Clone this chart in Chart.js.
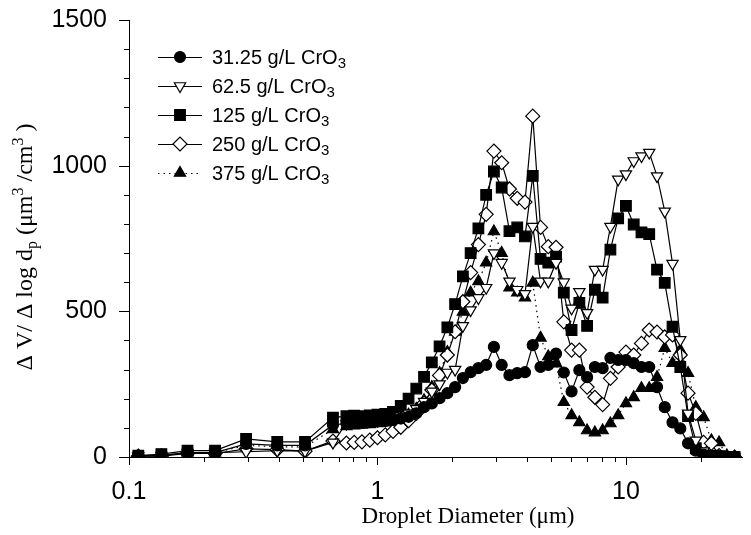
<!DOCTYPE html>
<html>
<head>
<meta charset="utf-8">
<script src="https://cdn.jsdelivr.net/npm/chart.js@4.4.1/dist/chart.umd.min.js"></script>
<style>
html,body{margin:0;padding:0;background:#fff;}
#wrap{width:751px;height:535px;position:relative;}
</style>
</head>
<body>
<div id="wrap"><canvas id="c" width="751" height="535"></canvas></div>
<script>
// ---- data ----
const diameters = [0.109, 0.135, 0.172, 0.222, 0.296, 0.395, 0.511, 0.662,
  0.750, 0.806, 0.866, 0.931, 1.000, 1.075, 1.155, 1.241, 1.334, 1.433,
  1.540, 1.655, 1.778, 1.911, 2.054, 2.207, 2.371, 2.548, 2.738, 2.942,
  3.162, 3.398, 3.652, 3.924, 4.217, 4.532, 4.870, 5.233, 5.623, 6.043,
  6.494, 6.978, 7.499, 8.058, 8.660, 9.306, 10.00, 10.75, 11.55, 12.41,
  13.34, 14.33, 15.40, 16.55, 17.78, 19.11, 20.54, 22.07, 23.71, 25.48, 27.38];

const conc31 = [5, 5, 15, 15, 45, 40, 40, 110,
  115, 117, 118, 120, 122, 124, 127, 132, 138, 150,
  171, 184, 202, 219, 240, 271, 291, 305, 316, 378,
  316, 281, 288, 291, 384, 309, 316, 355, 290, 225,
  298, 274, 309, 305, 340, 333, 333, 322, 309, 309,
  240, 171, 119, 98, 47, 22, 8, 3, 2, 0, 0];

const conc62 = [3, 5, 15, 15, 18, 22, 20, 50,
  115, 120, 122, 125, 125, 128, 132, 140, 150, 165,
  190, 225, 250, 290, 300, 450, 504, 546, 581, 700,
  667, 603, 574, 560, 791, 603, 603, 667, 600, 510,
  567, 495, 643, 643, 791, 953, 971, 1016, 1033, 1045,
  964, 843, 664, 402, 150, 57, 20, 5, 2, 0, 0];

const conc125 = [5, 10, 22, 22, 62, 52, 52, 135,
  140, 142, 140, 143, 145, 148, 155, 175, 200, 235,
  275, 325, 380, 445, 525, 620, 700, 785, 900, 980,
  925, 775, 788, 757, 965, 680, 667, 688, 564, 436,
  529, 450, 574, 547, 712, 819, 862, 798, 771, 765,
  643, 598, 447, 309, 140, 30, 10, 5, 3, 0, 0];

const conc250 = [3, 3, 12, 12, 28, 25, 20, 55,
  48, 50, 52, 58, 66, 76, 88, 102, 125, 150,
  185, 230, 280, 350, 430, 533, 633, 729, 833, 1050,
  1010, 920, 888, 875, 1170, 788, 722, 720, 464, 367,
  367, 240, 205, 180, 270, 309, 360, 350, 390, 436,
  429, 412, 419, 350, 219, 150, 50, 47, 5, 0, 0];

const conc375 = [3, 5, 15, 15, 40, 35, 35, 95,
  105, 108, 110, 112, 115, 118, 122, 130, 145, 165,
  195, 240, 288, 360, 429, 498, 564, 603, 667, 774,
  700, 581, 564, 547, 598, 409, 345, 320, 188, 143,
  119, 91, 84, 91, 115, 143, 184, 205, 236, 236,
  274, 374, 322, 367, 288, 171, 136, 57, 50, 5, 0];

const seriesNames = ['31.25 g/L CrO', '62.5 g/L CrO', '125 g/L CrO', '250 g/L CrO', '375 g/L CrO'];
const seriesSub = '3';
const xTickLabels = [0.1, 1, 10];
const yTickLabels = [0, 500, 1000, 1500];
const xTitle = 'Droplet Diameter (\u03BCm)';

// ---- styling ----
const SANS = '"Liberation Sans", Arial, sans-serif';
const SERIF = '"Liberation Serif", "Times New Roman", serif';
const styles = [
  {pointStyle: 'circle', rotation: 0, radius: 5.5, fill: '#000', dash: []},
  {pointStyle: 'triangle', rotation: 180, radius: 6.5, fill: '#fff', dash: []},
  {pointStyle: 'rect', rotation: 0, radius: 7.5, fill: '#000', dash: []},
  {pointStyle: 'rectRot', rotation: 0, radius: 7, fill: '#fff', dash: []},
  {pointStyle: 'triangle', rotation: 0, radius: 6.5, fill: '#000', dash: [1.5, 4]}
];
const seriesData = [conc31, conc62, conc125, conc250, conc375];

const datasets = seriesData.map((vals, i) => ({
  label: seriesNames[i] + seriesSub,
  data: diameters.map((d, j) => ({x: d, y: vals[j]})),
  borderColor: '#000',
  borderWidth: 1.2,
  borderDash: styles[i].dash,
  pointStyle: styles[i].pointStyle,
  pointRotation: styles[i].rotation,
  pointRadius: styles[i].radius,
  pointBackgroundColor: styles[i].fill,
  pointBorderColor: '#000',
  pointBorderWidth: 1.2,
  tension: 0,
  fill: false
}));

const decor = {
  id: 'decor',
  afterDraw(chart) {
    const {ctx, chartArea: a, scales: {x, y}} = chart;
    ctx.save();
    ctx.strokeStyle = '#000';
    ctx.fillStyle = '#000';
    ctx.lineWidth = 1;
    ctx.setLineDash([]);
    // y ticks (major every 500, minor every 100)
    for (let v = 0; v <= 1500; v += 100) {
      const py = Math.round(y.getPixelForValue(v)) + 0.5;
      const len = (v % 500 === 0) ? 10 : 5;
      ctx.beginPath(); ctx.moveTo(a.left - len, py); ctx.lineTo(a.left, py); ctx.stroke();
    }
    // x ticks (log decades with minors)
    xTickLabels.forEach(dec => {
      for (let m = 1; m <= 9; m++) {
        const v = dec * m;
        if (v > x.max) break;
        const px = Math.round(x.getPixelForValue(v)) + 0.5;
        const len = m === 1 ? 8 : 5;
        ctx.beginPath(); ctx.moveTo(px, a.bottom); ctx.lineTo(px, a.bottom + len); ctx.stroke();
      }
    });
    // x title
    ctx.font = '23px ' + SERIF;
    ctx.textAlign = 'center';
    ctx.textBaseline = 'alphabetic';
    ctx.fillText(xTitle, 468, 523);
    // y title (rotated, with sub/superscripts)
    const parts = [
      ['\u0394 V/ \u0394 log d', 24, 0],
      ['p', 16, 5],
      [' (\u03BCm', 24, 0],
      ['3', 16, -9],
      [' /cm', 24, 0],
      ['3', 16, -9],
      [' )', 24, 0]
    ];
    let total = 0;
    parts.forEach(p => { ctx.font = p[1] + 'px ' + SERIF; total += ctx.measureText(p[0]).width; });
    ctx.save();
    ctx.translate(24, 247);
    ctx.rotate(-Math.PI / 2);
    ctx.textAlign = 'left';
    let cx = -total / 2;
    parts.forEach(p => {
      ctx.font = p[1] + 'px ' + SERIF;
      ctx.fillText(p[0], cx, 8 + p[2]);
      cx += ctx.measureText(p[0]).width;
    });
    ctx.restore();
    // legend
    chart.data.datasets.forEach((ds, i) => {
      const ry = 57 + 29 * i;
      ctx.setLineDash(styles[i].dash);
      ctx.lineWidth = 1.2;
      ctx.beginPath(); ctx.moveTo(158, ry + 0.5); ctx.lineTo(202, ry + 0.5); ctx.stroke();
      ctx.setLineDash([]);
      ctx.fillStyle = styles[i].fill;
      ctx.strokeStyle = '#000';
      Chart.helpers.drawPoint(ctx, {pointStyle: styles[i].pointStyle, rotation: styles[i].rotation,
        radius: styles[i].radius, borderWidth: 1.2}, 180, ry);
      ctx.fillStyle = '#000';
      ctx.font = '20px ' + SANS;
      ctx.textAlign = 'left';
      ctx.textBaseline = 'alphabetic';
      ctx.fillText(seriesNames[i], 212, ry + 7);
      const w = ctx.measureText(seriesNames[i]).width;
      ctx.font = '15px ' + SANS;
      ctx.fillText(seriesSub, 212 + w, ry + 11);
    });
    ctx.restore();
  }
};

new Chart(document.getElementById('c'), {
  type: 'line',
  data: {datasets},
  options: {
    responsive: false,
    animation: false,
    devicePixelRatio: 1,
    layout: {padding: {top: 20, right: 0, left: 0, bottom: 0}},
    plugins: {legend: {display: false}, tooltip: {enabled: false}},
    scales: {
      x: {
        type: 'logarithmic', min: 0.1, max: 29.4, position: 'bottom',
        grid: {display: false, drawTicks: false},
        border: {display: true, color: '#000', width: 1},
        afterBuildTicks: s => { s.ticks = xTickLabels.map(v => ({value: v})); },
        afterFit: s => { s.height = 78; s.paddingLeft = 0; s.paddingRight = 0; },
        ticks: {autoSkip: false, maxRotation: 0, minRotation: 0, padding: 20, color: '#000',
          font: {family: SANS, size: 25}, callback: v => String(v)}
      },
      y: {
        type: 'linear', min: 0, max: 1500,
        grid: {display: false, drawTicks: false},
        border: {display: true, color: '#000', width: 1},
        afterBuildTicks: s => { s.ticks = yTickLabels.map(v => ({value: v})); },
        afterFit: s => { s.width = 129; s.paddingTop = 0; s.paddingBottom = 0; },
        ticks: {padding: 22, color: '#000', font: {family: SANS, size: 25}, callback: v => String(v)}
      }
    }
  },
  plugins: [decor]
});
</script>
</body>
</html>
